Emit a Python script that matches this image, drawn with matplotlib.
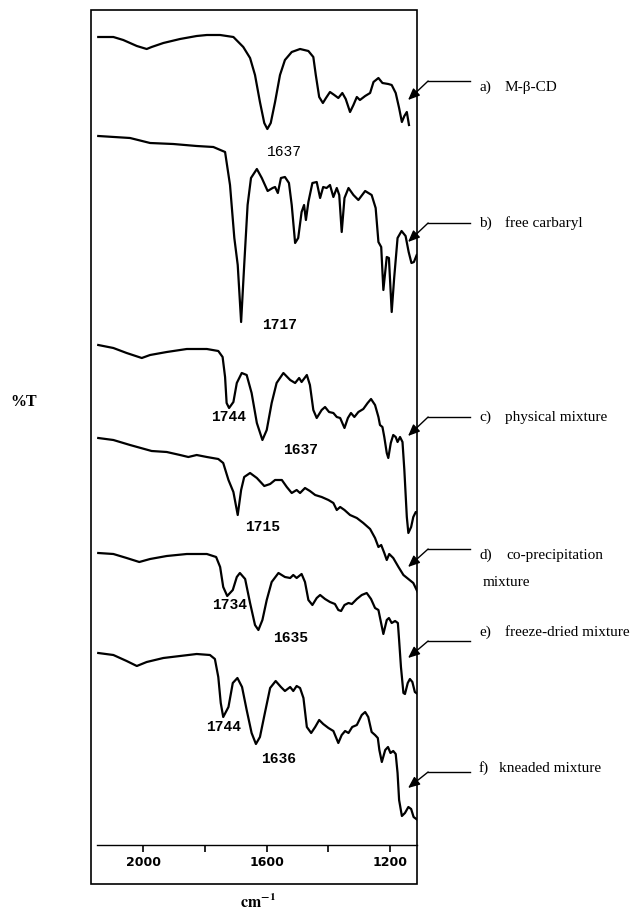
import matplotlib.pyplot as plt
from matplotlib.patches import Rectangle

plt.rcParams['mathtext.fontset'] = 'stix'

# FTIR spectra, wavenumber (cm-1) vs %T (stacked, arbitrary offsets)
wn_a = [2146, 2097, 2065, 2021, 1989, 1973, 1935, 1881, 1827, 1794, 1751, 1708, 1676, 1654, 1638, 1622,
        1608, 1598, 1587, 1573, 1557, 1541, 1519, 1492, 1465, 1449, 1441, 1430, 1418, 1408, 1395, 1381,
        1368, 1355, 1344, 1330, 1319, 1308, 1298, 1281, 1265, 1254, 1238, 1225, 1206, 1195, 1182, 1171,
        1162, 1154, 1146, 1139]
t_a = [84.7, 84.7, 84.4, 83.8, 83.5, 83.7, 84.1, 84.5, 84.8, 84.9, 84.9, 84.7, 83.7, 82.6, 80.9, 78.2,
       76.1, 75.5, 76.1, 78.2, 80.9, 82.4, 83.2, 83.5, 83.3, 82.7, 80.9, 78.7, 78.1, 78.6, 79.2, 78.9,
       78.6, 79.1, 78.5, 77.2, 77.9, 78.7, 78.4, 78.8, 79.1, 80.2, 80.6, 80.1, 80.0, 79.9, 79.1, 77.6,
       76.2, 76.8, 77.2, 75.9]

wn_b = [2146, 2043, 1978, 1903, 1827, 1773, 1735, 1719, 1705, 1694, 1683, 1673, 1662, 1651, 1632, 1616,
        1597, 1581, 1573, 1564, 1554, 1541, 1528, 1519, 1508, 1498, 1487, 1479, 1473, 1465, 1452, 1438,
        1427, 1417, 1406, 1395, 1384, 1373, 1365, 1357, 1348, 1335, 1319, 1303, 1281, 1260, 1247, 1238,
        1229, 1222, 1211, 1204, 1195, 1187, 1176, 1163, 1150, 1140, 1131, 1123, 1114]
t_b = [74.8, 74.6, 74.1, 74.0, 73.8, 73.7, 73.2, 69.9, 64.6, 61.9, 56.2, 61.9, 67.9, 70.6, 71.5, 70.6,
       69.3, 69.6, 69.7, 69.1, 70.6, 70.7, 70.1, 67.9, 64.1, 64.6, 67.2, 67.9, 66.4, 68.2, 70.1, 70.2,
       68.6, 69.7, 69.6, 69.9, 68.7, 69.6, 68.9, 65.2, 68.6, 69.6, 68.9, 68.4, 69.3, 68.9, 67.6, 64.2,
       63.7, 59.4, 62.7, 62.6, 57.2, 60.6, 64.6, 65.3, 64.8, 63.2, 62.1, 62.2, 62.9]

wn_c = [2146, 2097, 2054, 2005, 1978, 1924, 1859, 1794, 1757, 1743, 1735, 1730, 1722, 1708, 1697, 1681,
        1665, 1649, 1632, 1614, 1600, 1584, 1568, 1546, 1524, 1508, 1495, 1487, 1470, 1460, 1449, 1438,
        1422, 1411, 1398, 1384, 1373, 1362, 1348, 1337, 1327, 1316, 1303, 1287, 1273, 1262, 1249, 1238,
        1233, 1225, 1219, 1211, 1206, 1198, 1190, 1182, 1176, 1168, 1160, 1154, 1146, 1141, 1132, 1125,
        1117, 1111]
t_c = [53.9, 53.6, 53.1, 52.6, 52.9, 53.2, 53.5, 53.5, 53.3, 52.7, 50.7, 48.1, 47.6, 48.2, 50.1, 51.1,
       50.9, 49.1, 46.1, 44.4, 45.4, 48.1, 50.1, 51.1, 50.4, 50.1, 50.6, 50.2, 50.9, 49.9, 47.4, 46.6,
       47.4, 47.7, 47.2, 47.1, 46.7, 46.6, 45.6, 46.6, 47.1, 46.7, 47.2, 47.5, 48.1, 48.5, 47.9, 46.7,
       45.9, 45.7, 44.7, 43.1, 42.6, 44.1, 44.9, 44.7, 44.2, 44.7, 44.2, 41.4, 36.7, 35.1, 35.7, 36.7,
       37.2, 37.1]

wn_d = [2146, 2097, 2043, 1973, 1924, 1881, 1854, 1827, 1794, 1757, 1741, 1724, 1708, 1694, 1683, 1673,
        1654, 1632, 1608, 1589, 1573, 1551, 1535, 1519, 1503, 1492, 1476, 1460, 1443, 1422, 1400, 1384,
        1373, 1362, 1348, 1330, 1308, 1287, 1265, 1249, 1238, 1229, 1219, 1211, 1203, 1190, 1173, 1157,
        1141, 1125, 1111]
t_d = [44.6, 44.4, 43.9, 43.3, 43.2, 42.9, 42.7, 42.9, 42.7, 42.5, 42.1, 40.4, 39.2, 36.9, 39.4, 40.7,
       41.1, 40.6, 39.8, 40.0, 40.4, 40.4, 39.7, 39.1, 39.4, 39.1, 39.6, 39.3, 38.9, 38.7, 38.4, 38.1,
       37.4, 37.7, 37.4, 36.9, 36.6, 36.1, 35.5, 34.6, 33.7, 33.9, 33.1, 32.4, 33.0, 32.6, 31.7, 30.9,
       30.5, 30.1, 29.2]

wn_e = [2146, 2097, 2054, 2013, 1978, 1924, 1859, 1794, 1764, 1751, 1741, 1728, 1710, 1697, 1687, 1670,
        1654, 1638, 1627, 1614, 1600, 1584, 1562, 1541, 1524, 1514, 1503, 1487, 1476, 1465, 1452, 1438,
        1427, 1411, 1395, 1379, 1368, 1359, 1348, 1335, 1324, 1308, 1292, 1276, 1262, 1249, 1238, 1230,
        1222, 1211, 1204, 1195, 1184, 1175, 1171, 1165, 1157, 1152, 1143, 1136, 1128, 1120, 1111]
t_e = [33.1, 33.0, 32.6, 32.2, 32.5, 32.8, 33.0, 33.0, 32.7, 31.7, 29.7, 28.8, 29.4, 30.7, 31.1, 30.5,
       28.1, 25.9, 25.4, 26.4, 28.4, 30.2, 31.1, 30.7, 30.6, 30.9, 30.6, 31.0, 30.2, 28.4, 27.9, 28.6,
       28.9, 28.5, 28.2, 28.0, 27.4, 27.3, 27.9, 28.1, 28.0, 28.5, 28.9, 29.1, 28.5, 27.6, 27.4, 26.2,
       25.0, 26.4, 26.6, 26.1, 26.3, 26.1, 24.4, 21.7, 19.1, 19.0, 20.1, 20.5, 20.2, 19.2, 19.0]

wn_f = [2146, 2097, 2054, 2021, 1989, 1935, 1881, 1827, 1784, 1768, 1757, 1749, 1741, 1724, 1710, 1695,
        1680, 1665, 1649, 1635, 1622, 1606, 1589, 1571, 1554, 1541, 1524, 1514, 1503, 1492, 1481, 1470,
        1456, 1443, 1430, 1417, 1400, 1384, 1376, 1368, 1357, 1346, 1335, 1323, 1308, 1292, 1281, 1271,
        1260, 1249, 1240, 1235, 1227, 1216, 1207, 1199, 1190, 1182, 1176, 1171, 1162, 1152, 1141, 1132,
        1124, 1111]
t_f = [23.1, 22.9, 22.3, 21.8, 22.2, 22.6, 22.8, 23.0, 22.9, 22.5, 20.7, 18.1, 16.7, 17.7, 20.1, 20.6,
       19.7, 17.4, 15.1, 14.0, 14.7, 17.1, 19.6, 20.3, 19.7, 19.3, 19.7, 19.3, 19.8, 19.6, 18.6, 15.7,
       15.1, 15.7, 16.4, 16.0, 15.6, 15.3, 14.7, 14.1, 14.9, 15.3, 15.1, 15.7, 15.9, 16.9, 17.2, 16.7,
       15.2, 14.9, 14.6, 13.4, 12.2, 13.4, 13.7, 13.1, 13.3, 13.0, 11.1, 8.4, 6.8, 7.1, 7.7, 7.5,
       6.7, 6.4]

# peak annotations: text, wavenumber, %T, bold
peak_text = ['1637', '1717', '1744', '1637', '1715', '1734', '1635', '1744', '1636']
peak_wn = [1544, 1559, 1724, 1490, 1613, 1721, 1522, 1741, 1562]
peak_t = [73.2, 55.9, 46.7, 43.4, 35.7, 27.9, 24.6, 15.7, 12.5]
peak_bold = [False, True, True, True, True, True, True, True, True]

# sample labels and their arrows
sample_letters = ['a)', 'b)', 'c)', 'd)', 'e)', 'f)']
sample_names = ['M-β-CD', 'free carbaryl', 'physical mixture', 'co-precipitation',
                'freeze-dried mixture', 'kneaded mixture']
arrow_line_t = [80.3, 66.1, 46.7, 33.5, 24.3, 11.2]
arrow_tip_t = [78.4, 64.2, 44.8, 31.7, 22.6, 9.6]
label_y_px = [87, 223, 417, 555, 632, 768]
name_x_px = [505, 505, 505, 506, 505, 499]

W, H = 644, 915
fig = plt.figure(figsize=(W / 100, H / 100), dpi=100)
ax = fig.add_axes([91 / W, 31 / H, 326 / W, 874 / H])

for wn, t in [(wn_a, t_a), (wn_b, t_b), (wn_c, t_c), (wn_d, t_d), (wn_e, t_e), (wn_f, t_f)]:
    ax.plot(wn, t, color='black', lw=1.6, solid_joinstyle='round')

ax.set_xlim(2169.5, 1113)
ax.set_ylim(0, 87.4)

# outer frame
ax.add_patch(Rectangle((0, 0), 1, 1, transform=ax.transAxes, fill=False,
                       lw=1.2, edgecolor='black', clip_on=False))
for s in ['top', 'left', 'right']:
    ax.spines[s].set_visible(False)

# wavenumber axis drawn inside the frame
ax.spines['bottom'].set_position(('data', 3.9))
ax.spines['bottom'].set_bounds(2151, 1113)
ax.spines['bottom'].set_linewidth(1.0)
ax.set_xticks([2000, 1800, 1600, 1400, 1200])
ax.set_xticklabels(['2000', '', '1600', '', '1200'])
ax.tick_params(axis='x', direction='out', length=5, width=1.2, pad=3)
for lbl in ax.get_xticklabels():
    lbl.set_fontweight('bold')
    lbl.set_fontsize(9)
ax.set_yticks([])

for txt, x, y, b in zip(peak_text, peak_wn, peak_t, peak_bold):
    ax.text(x, y, txt, family='Liberation Mono', fontsize=10.5,
            fontweight='bold' if b else 'normal', ha='center', va='center')

for i in range(len(sample_letters)):
    ax.plot([941, 1077], [arrow_line_t[i]] * 2, color='black', lw=1.0, clip_on=False)
    ax.annotate('', xy=(1142, arrow_tip_t[i]), xytext=(1077, arrow_line_t[i]),
                arrowprops=dict(arrowstyle='-|>,head_length=0.7,head_width=0.3',
                                color='black', lw=1.0, shrinkA=0, shrinkB=0),
                annotation_clip=False)
    fig.text(479 / W, 1 - label_y_px[i] / H, sample_letters[i], family='Liberation Serif',
             fontsize=11, va='center', ha='left')
    fig.text(name_x_px[i] / W, 1 - label_y_px[i] / H, sample_names[i], family='Liberation Serif',
             fontsize=11, va='center', ha='left')
fig.text(483 / W, 1 - 583 / H, 'mixture', family='Liberation Serif', fontsize=11,
         va='center', ha='left')

fig.text(24 / W, 1 - 402 / H, '%T', family='Liberation Serif', fontsize=11.5,
         fontweight='bold', ha='center', va='center')
fig.text(258 / W, 1 - 902 / H, r'$\mathbf{cm^{-1}}$', fontsize=11.5, ha='center', va='center')

fig.savefig('out.png', dpi=100)
